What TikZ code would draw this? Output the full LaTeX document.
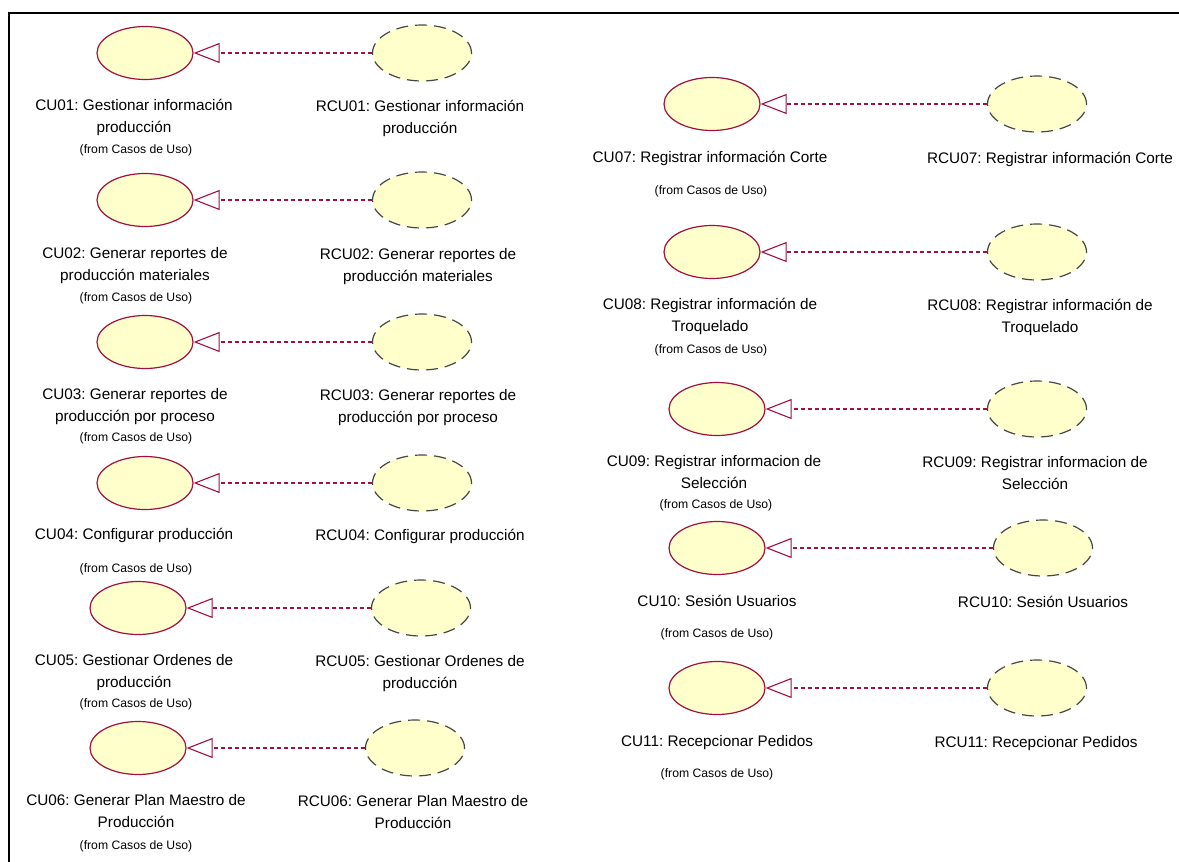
\documentclass[tikz,border=0pt]{standalone}
\usepackage{fontspec}
\setmainfont{Liberation Sans}
\frenchspacing
\usetikzlibrary{shapes.geometric,arrows.meta}
\definecolor{ucred}{RGB}{160,16,64}
\definecolor{ucfill}{RGB}{255,255,204}
\definecolor{ucgray}{RGB}{70,70,70}

\begin{document}
\begin{tikzpicture}[x=1pt,y=1pt,yscale=-1,
  caso/.style={ellipse,draw=ucred,fill=ucfill,line width=1.2,minimum width=96,minimum height=53,inner sep=0},
  rcaso/.style={ellipse,draw=ucgray,fill=ucfill,line width=1.2,dash pattern=on 12pt off 7pt,minimum width=99,minimum height=56,inner sep=0},
  realiza/.style={draw=ucred,line width=1.1,dash pattern=on 4pt off 3pt,-{Triangle[open,length=26,width=20]}},
  lbl/.style={anchor=base,align=center,inner sep=0,font=\fontsize{15.3}{22}\selectfont},
  fromlbl/.style={anchor=base,inner sep=0,font=\fontsize{12.2}{14}\selectfont}]
\useasboundingbox (0,0) rectangle (1179,862);

%Frame
\draw [line width=2] (8.5,862) -- (8.5,12.5) -- (1179,12.5);

%Left column: use cases
\node [caso] (cu01) at (145,53) {};
\node [caso] (cu02) at (145,200) {};
\node [caso] (cu03) at (145,342) {};
\node [caso] (cu04) at (145,483) {};
\node [caso] (cu05) at (138,608) {};
\node [caso] (cu06) at (138,748) {};
%Left column: realizations
\node [rcaso] (rcu01) at (422,53) {};
\node [rcaso] (rcu02) at (422,200) {};
\node [rcaso] (rcu03) at (422,342) {};
\node [rcaso] (rcu04) at (422,483) {};
\node [rcaso] (rcu05) at (421,608) {};
\node [rcaso] (rcu06) at (415,748) {};

%Right column: use cases
\node [caso] (cu07) at (712,104) {};
\node [caso] (cu08) at (712,252) {};
\node [caso] (cu09) at (717,409) {};
\node [caso] (cu10) at (717,548) {};
\node [caso] (cu11) at (717,688) {};
%Right column: realizations
\node [rcaso] (rcu07) at (1037,104) {};
\node [rcaso] (rcu08) at (1037,252) {};
\node [rcaso] (rcu09) at (1037,409) {};
\node [rcaso] (rcu10) at (1043,548) {};
\node [rcaso] (rcu11) at (1037,688) {};

%Realization links
\draw [realiza] (rcu01) -- (cu01);
\draw [realiza] (rcu02) -- (cu02);
\draw [realiza] (rcu03) -- (cu03);
\draw [realiza] (rcu04) -- (cu04);
\draw [realiza] (rcu05) -- (cu05);
\draw [realiza] (rcu06) -- (cu06);
\draw [realiza] (rcu07) -- (cu07);
\draw [realiza] (rcu08) -- (cu08);
\draw [realiza] (rcu09) -- (cu09);
\draw [realiza] (rcu10) -- (cu10);
\draw [realiza] (rcu11) -- (cu11);

% Text Node (base = last line)
\node [lbl] (cu01txt) at (134,132.5) {CU01: Gestionar información\\producción};
\node [fromlbl] (cu01from) at (136,153) {(from Casos de Uso)};
\node [lbl] (rcu01txt) at (420,133.5) {RCU01: Gestionar información\\producción};
% Text Node
\node [lbl] (cu02txt) at (135,280.5) {CU02: Generar reportes de\\producción materiales};
\node [fromlbl] (cu02from) at (136,301) {(from Casos de Uso)};
\node [lbl] (rcu02txt) at (418,281.5) {RCU02: Generar reportes de\\producción materiales};
% Text Node
\node [lbl] (cu03txt) at (135,421.5) {CU03: Generar reportes de\\producción por proceso};
\node [fromlbl] (cu03from) at (136,441) {(from Casos de Uso)};
\node [lbl] (rcu03txt) at (418,422.5) {RCU03: Generar reportes de\\producción por proceso};
% Text Node
\node [lbl] (cu04txt) at (134,539.5) {CU04: Configurar producción};
\node [fromlbl] (cu04from) at (136,572) {(from Casos de Uso)};
\node [lbl] (rcu04txt) at (420,540.5) {RCU04: Configurar producción};
% Text Node
\node [lbl] (cu05txt) at (134,687.5) {CU05: Gestionar Ordenes de\\producción};
\node [fromlbl] (cu05from) at (136,707) {(from Casos de Uso)};
\node [lbl] (rcu05txt) at (420,688.5) {RCU05: Gestionar Ordenes de\\producción};
% Text Node
\node [lbl] (cu06txt) at (136,827.5) {CU06: Generar Plan Maestro de\\Producción};
\node [fromlbl] (cu06from) at (136,849) {(from Casos de Uso)};
\node [lbl] (rcu06txt) at (413,828.5) {RCU06: Generar Plan Maestro de\\Producción};

% Text Node
\node [lbl] (cu07txt) at (710,162.5) {CU07: Registrar información Corte};
\node [fromlbl] (cu07from) at (711,194) {(from Casos de Uso)};
\node [lbl] (rcu07txt) at (1050,163.5) {RCU07: Registrar información Corte};
% Text Node
\node [lbl] (cu08txt) at (710,331.5) {CU08: Registrar información de\\Troquelado};
\node [fromlbl] (cu08from) at (711,353) {(from Casos de Uso)};
\node [lbl] (rcu08txt) at (1040,332.5) {RCU08: Registrar información de\\Troquelado};
% Text Node
\node [lbl] (cu09txt) at (714,488.5) {CU09: Registrar informacion de\\Selección};
\node [fromlbl] (cu09from) at (716,508) {(from Casos de Uso)};
\node [lbl] (rcu09txt) at (1035,489.5) {RCU09: Registrar informacion de\\Selección};
% Text Node
\node [lbl] (cu10txt) at (717,606.5) {CU10: Sesión Usuarios};
\node [fromlbl] (cu10from) at (717,637) {(from Casos de Uso)};
\node [lbl] (rcu10txt) at (1043,607.5) {RCU10: Sesión Usuarios};
% Text Node
\node [lbl] (cu11txt) at (717,746.5) {CU11: Recepcionar Pedidos};
\node [fromlbl] (cu11from) at (717,777) {(from Casos de Uso)};
\node [lbl] (rcu11txt) at (1036,747.5) {RCU11: Recepcionar Pedidos};

\end{tikzpicture}
\end{document}
